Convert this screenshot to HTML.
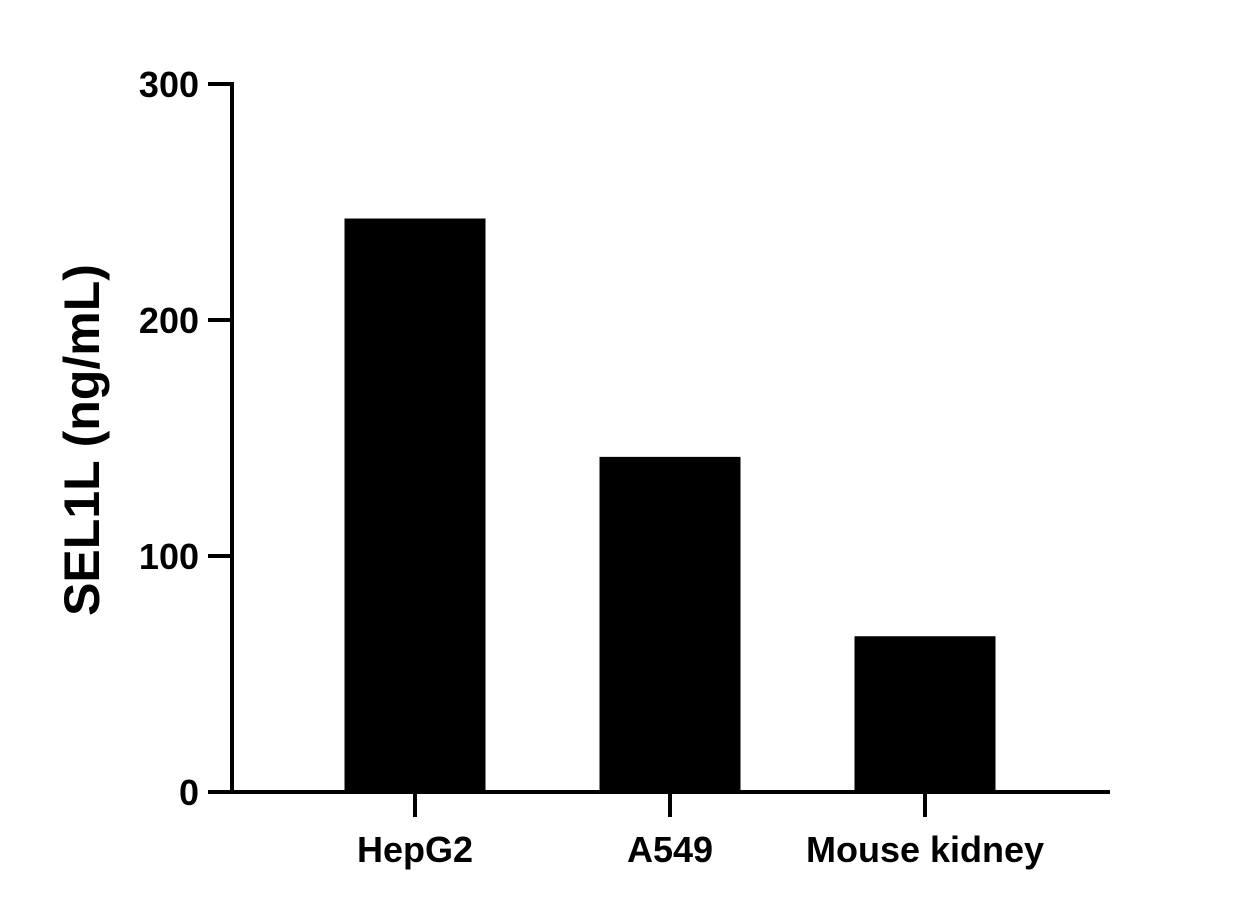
<!DOCTYPE html>
<html><head><meta charset="utf-8"><style>
body{margin:0;background:#fff;}
svg text{font-family:"Liberation Sans",Arial,sans-serif;font-weight:bold;fill:#000;}
</style></head><body>
<svg id="chart" width="1243" height="910" xmlns="http://www.w3.org/2000/svg"></svg>
<script>
const categories = ["HepG2", "A549", "Mouse kidney"];
const values = [243, 142, 66];
const yTicks = [0, 100, 200, 300];

const NS = "http://www.w3.org/2000/svg";
const svg = document.getElementById("chart");
const x0 = 232, x1 = 1110, yBase = 792, yTop = 84, yMax = 300;
const yScale = v => yBase - (v / yMax) * (yBase - yTop);
const step = 255, firstCenter = 415, barW = 141;
const xScale = i => firstCenter + i * step;

function mk(tag, attrs) {
  const el = document.createElementNS(NS, tag);
  for (const k in attrs) el.setAttribute(k, attrs[k]);
  svg.appendChild(el);
  return el;
}

values.forEach((v, i) => {
  const r = mk("rect", {x: xScale(i) - barW / 2, y: yScale(v), width: barW, height: yBase - yScale(v), fill: "#000"});
  
  
});

const ya = mk("line", {x1: x0, y1: yTop - 2, x2: x0, y2: yBase + 2, stroke: "#000", "stroke-width": 4});


const xa = mk("line", {x1: x0 - 2, y1: yBase, x2: x1, y2: yBase, stroke: "#000", "stroke-width": 4});



yTicks.forEach(t => {
  const y = yScale(t);
  const tk = mk("line", {x1: 208, y1: y, x2: x0, y2: y, stroke: "#000", "stroke-width": 4});
  
  
  const lb = mk("text", {x: 199, y: y + 13, "text-anchor": "end", "font-size": 36});
  lb.textContent = t;
  
  
});

categories.forEach((c, i) => {
  const x = xScale(i);
  const tk = mk("line", {x1: x, y1: yBase, x2: x, y2: 817, stroke: "#000", "stroke-width": 4});
  
  
  const lb = mk("text", {x: x, y: 862, "text-anchor": "middle", "font-size": 36});
  lb.textContent = c;
  
  
});

const title = mk("text", {x: 0, y: 0, "text-anchor": "middle", "font-size": 50, transform: "translate(99,440) rotate(-90)"});
title.textContent = "SEL1L (ng/mL)";


</script>
</body></html>
